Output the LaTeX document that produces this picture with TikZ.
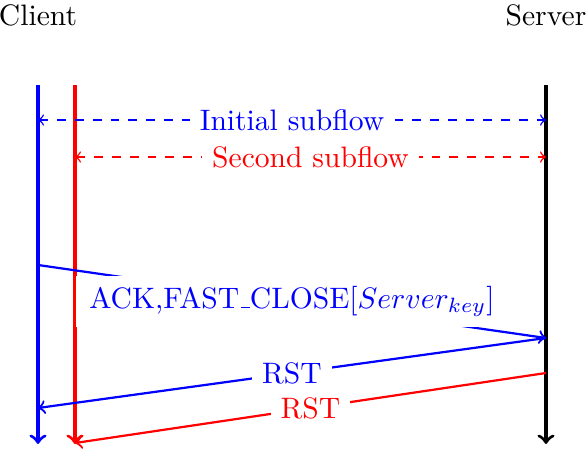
\documentclass[tikz,border=0pt]{standalone}
\usetikzlibrary{arrows}
\newcommand{\lowbar}{\leavevmode\kern.06em\vbox{\hrule width.3em}}
\begin{document}
\begin{tikzpicture}[x=0.338pt,y=-0.338pt,
  lifeline/.style={line width=1.1pt,->},
  msg/.style={line width=0.75pt,->},
  span/.style={line width=0.5pt,dashed,<->},
  lbl/.style={fill=white,inner sep=3.3pt},
  actor/.style={inner sep=0pt}]
\useasboundingbox (0,0) rectangle (586,454);
\node[actor] (client) at (38,15) {Client};
\node[actor] (server) at (546,15) {Server};
\coordinate (c1t) at (38,85);  \coordinate (c1b) at (38,444);
\coordinate (c2t) at (75,85);  \coordinate (c2b) at (75,444);
\coordinate (st)  at (546,85); \coordinate (sb)  at (546,444);
\coordinate (a1) at (38,120);  \coordinate (b1) at (546,120);
\coordinate (a2) at (75,157);  \coordinate (b2) at (546,157);
\coordinate (m1s) at (38,265); \coordinate (m1e) at (546,338);
\coordinate (m2s) at (546,338); \coordinate (m2e) at (38,408);
\coordinate (m3s) at (546,373); \coordinate (m3e) at (75,443);
\draw[lifeline,blue] (c1t) -- (c1b);
\draw[lifeline,red] (c2t) -- (c2b);
\draw[lifeline,black] (st) -- (sb);
\draw[span,blue] (a1) -- node[lbl] (l1) {Initial subflow} (b1);
\draw[span,red] (a2) -- node[lbl] (l2) {Second subflow} (b2);
\draw[msg,blue] (m1s) -- node[lbl,inner xsep=4.6pt] (l3) {ACK,FAST\lowbar CLOSE[$Server_{key}$]} (m1e);
\draw[msg,blue] (m2s) -- node[lbl] (l4) {RST} (m2e);
\draw[msg,red] (m3s) -- node[lbl] (l5) {RST} (m3e);
\end{tikzpicture}
\end{document}
